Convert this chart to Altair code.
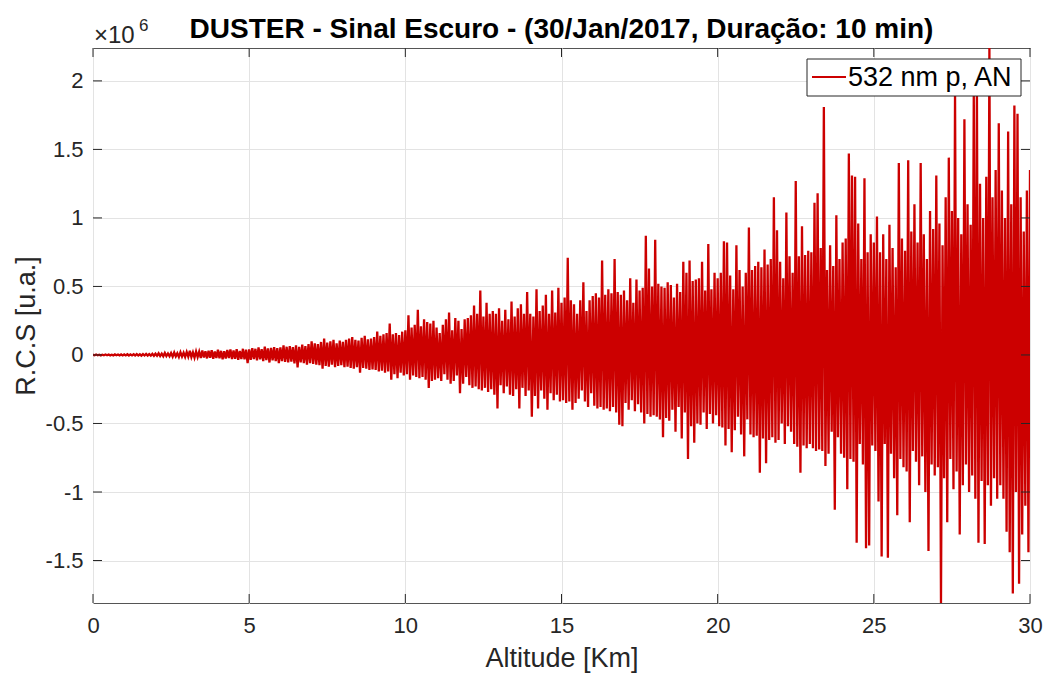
import altair as alt
import pandas as pd

# ---------------- texts ----------------
title_text = "DUSTER - Sinal Escuro - (30/Jan/2017, Duração: 10 min)"
series_name = "532 nm p, AN"
x_title = "Altitude [Km]"
y_title = "R.C.S [u.a.]"
exp_base = "×10"
exp_power = "6"

# ---------------- data (R.C.S in units of 1e6, one sample every 0.05 km) ----------------
step_km = 0.05

seg_00_05 = [
    0.002, -0.002, 0.003, -0.002, 0.002, -0.003, 0.002, -0.002, 0.003, -0.002,
    0.003, -0.003, 0.002, -0.003, 0.004, -0.002, 0.003, -0.003, 0.004, -0.003,
    0.004, -0.003, 0.005, -0.004, 0.004, -0.003, 0.005, -0.004, 0.006, -0.004,
    0.005, -0.005, 0.006, -0.004, 0.007, -0.005, 0.006, -0.005, 0.008, -0.006,
    0.009, -0.006, 0.012, -0.008, 0.010, -0.009, 0.015, -0.008, 0.011, -0.010,
    0.014, -0.012, 0.018, -0.010, 0.013, -0.014, 0.020, -0.012, 0.016, -0.015,
    0.022, -0.013, 0.030, -0.016, 0.019, -0.020, 0.026, -0.015, 0.024, -0.022,
    0.032, -0.018, 0.027, -0.025, 0.030, -0.020, 0.035, -0.028, 0.026, -0.022,
    0.038, -0.025, 0.030, -0.032, 0.028, -0.026, 0.036, -0.022, 0.040, -0.030,
    0.033, -0.028, 0.042, -0.035, 0.030, -0.030, 0.045, -0.032, 0.038, -0.060,
]

seg_05_10 = [
    0.040, -0.035, 0.050, -0.030, 0.045, -0.040, 0.055, -0.032, 0.042, -0.045,
    0.060, -0.038, 0.048, -0.055, 0.052, -0.040, 0.058, -0.045, 0.050, -0.060,
    0.055, -0.045, 0.070, -0.050, 0.060, -0.055, 0.065, -0.048, 0.058, -0.062,
    0.070, -0.090, 0.060, -0.055, 0.075, -0.060, 0.065, -0.070, 0.080, -0.060,
    0.100, -0.065, 0.085, -0.070, 0.080, -0.075, 0.095, -0.100, 0.120, -0.080,
    0.090, -0.085, 0.100, -0.070, 0.110, -0.090, 0.085, -0.080, 0.105, -0.075,
    0.095, -0.090, 0.110, -0.085, 0.120, -0.095, 0.130, -0.100, 0.110, -0.090,
    0.105, -0.130, 0.125, -0.095, 0.140, -0.100, 0.115, -0.110, 0.120, -0.105,
    0.130, -0.110, 0.170, -0.120, 0.140, -0.115, 0.150, -0.130, 0.160, -0.120,
    0.230, -0.180, 0.150, -0.140, 0.160, -0.170, 0.145, -0.130, 0.170, -0.150,
]

seg_10_15 = [
    0.180, -0.140, 0.290, -0.180, 0.200, -0.150, 0.220, -0.160, 0.330, -0.170,
    0.210, -0.160, 0.260, -0.180, 0.240, -0.240, 0.230, -0.190, 0.250, -0.180,
    0.200, -0.170, 0.160, -0.190, 0.220, -0.140, 0.260, -0.180, 0.310, -0.210,
    0.180, -0.190, 0.270, -0.150, 0.250, -0.280, 0.190, -0.210, 0.260, -0.160,
    0.270, -0.220, 0.290, -0.240, 0.360, -0.230, 0.300, -0.250, 0.470, -0.260,
    0.280, -0.240, 0.380, -0.270, 0.300, -0.250, 0.320, -0.290, 0.300, -0.390,
    0.340, -0.220, 0.250, -0.280, 0.330, -0.230, 0.260, -0.290, 0.390, -0.300,
    0.280, -0.250, 0.340, -0.390, 0.370, -0.240, 0.300, -0.300, 0.460, -0.260,
    0.300, -0.450, 0.280, -0.300, 0.480, -0.390, 0.320, -0.260, 0.360, -0.320,
    0.440, -0.400, 0.300, -0.280, 0.470, -0.330, 0.310, -0.290, 0.490, -0.340,
]

seg_15_20 = [
    0.380, -0.330, 0.420, -0.350, 0.710, -0.340, 0.400, -0.400, 0.370, -0.350,
    0.300, -0.320, 0.400, -0.260, 0.530, -0.340, 0.320, -0.380, 0.400, -0.280,
    0.430, -0.370, 0.450, -0.390, 0.420, -0.380, 0.690, -0.400, 0.440, -0.390,
    0.480, -0.410, 0.450, -0.380, 0.700, -0.420, 0.460, -0.510, 0.440, -0.520,
    0.470, -0.350, 0.400, -0.400, 0.560, -0.330, 0.380, -0.410, 0.550, -0.360,
    0.470, -0.420, 0.490, -0.500, 0.870, -0.430, 0.630, -0.450, 0.500, -0.440,
    0.840, -0.450, 0.520, -0.470, 0.500, -0.600, 0.490, -0.460, 0.530, -0.480,
    0.510, -0.400, 0.420, -0.560, 0.520, -0.380, 0.460, -0.610, 0.680, -0.420,
    0.600, -0.760, 0.690, -0.520, 0.540, -0.640, 0.550, -0.500, 0.560, -0.510,
    0.680, -0.420, 0.470, -0.540, 0.810, -0.430, 0.480, -0.500, 0.600, -0.440,
]

seg_20_25 = [
    0.560, -0.520, 0.600, -0.530, 0.830, -0.660, 0.820, -0.540, 0.580, -0.710,
    0.480, -0.550, 0.800, -0.450, 0.620, -0.580, 0.500, -0.740, 0.600, -0.470,
    0.930, -0.580, 0.620, -0.600, 0.650, -0.590, 0.680, -0.860, 0.640, -0.610,
    0.770, -0.790, 0.660, -0.620, 0.700, -0.600, 1.150, -0.640, 0.910, -0.620,
    0.680, -0.500, 0.560, -0.650, 1.040, -0.520, 0.720, -0.560, 0.600, -0.650,
    1.270, -0.670, 0.720, -0.860, 0.940, -0.660, 0.730, -0.680, 0.760, -0.650,
    0.750, -0.680, 1.110, -0.700, 1.180, -0.690, 0.780, -0.700, 1.810, -0.810,
    0.620, -0.720, 0.800, -0.560, 0.650, -1.130, 1.020, -0.600, 0.700, -0.720,
    0.820, -0.750, 0.850, -0.980, 1.470, -0.760, 1.310, -0.780, 1.300, -1.370,
    0.960, -0.650, 0.700, -0.800, 1.290, -1.410, 0.750, -1.390, 0.880, -0.660,
]

seg_25_30 = [
    0.820, -0.700, 1.010, -1.070, 0.750, -1.470, 0.880, -0.650, 0.700, -1.480,
    0.950, -0.720, 0.780, -0.900, 0.640, -1.170, 1.400, -0.760, 0.850, -0.820,
    0.760, -0.850, 1.420, -1.220, 0.900, -0.700, 1.100, -0.780, 0.820, -0.950,
    1.400, -0.740, 0.880, -1.000, 0.700, -1.430, 1.050, -0.800, 0.920, -0.880,
    1.310, -0.820, 0.960, -1.810, 0.800, -0.900, 1.150, -1.220, 1.440, -0.760,
    1.050, -0.980, 1.900, -0.850, 1.000, -1.310, 0.880, -0.950, 1.720, -0.800,
    1.100, -1.000, 0.950, -0.880, 1.900, -1.050, 1.950, -1.370, 1.250, -0.920,
    1.000, -1.380, 1.300, -0.950, 2.240, -1.100, 1.150, -0.900, 1.350, -1.050,
    1.690, -0.950, 1.200, -1.050, 1.000, -1.290, 1.630, -1.440, 1.100, -1.740,
    1.820, -1.000, 1.760, -1.670, 1.150, -1.310, 0.900, -1.100, 1.200, -1.440,
    1.350,
]

rcs = seg_00_05 + seg_05_10 + seg_10_15 + seg_15_20 + seg_20_25 + seg_25_30
altitude = [round(i * step_km, 2) for i in range(len(rcs))]

x_ticks = [0, 5, 10, 15, 20, 25, 30]
y_ticks = [-1.5, -1, -0.5, 0, 0.5, 1, 1.5, 2]
x_domain = [0, 30]
y_domain = [-1.81, 2.24]

# ---------------- chart ----------------
W, H = 937, 555
FONT = "Liberation Sans"
INK = "#262626"
RED = "#cc0000"
GRID = "#e3e3e3"

df = pd.DataFrame({"alt": altitude, "rcs": rcs, "serie": series_name})

x_scale = alt.Scale(domain=x_domain, nice=False, zero=False)
y_scale = alt.Scale(domain=y_domain, nice=False, zero=False)

x_axis = alt.Axis(
    values=x_ticks, title=x_title, grid=True, gridColor=GRID, gridWidth=1,
    tickSize=0, domain=False, labelFont=FONT, labelFontSize=22, labelColor=INK,
    labelPadding=12, labelFlush=False, labelOverlap=False,
    labelExpr="toString(datum.value)",
    titleFont=FONT, titleFontSize=27, titleFontWeight="normal", titleColor=INK,
    titleX=W / 2, titleY=63, titleBaseline="alphabetic", titleAlign="center",
)
y_axis = alt.Axis(
    values=y_ticks, title=y_title, grid=True, gridColor=GRID, gridWidth=1,
    tickSize=0, domain=False, labelFont=FONT, labelFontSize=22, labelColor=INK,
    labelPadding=10, labelFlush=False, labelOverlap=False,
    labelExpr="toString(datum.value)",
    titleFont=FONT, titleFontSize=27, titleFontWeight="normal", titleColor=INK,
    titleX=-59, titleY=H / 2, titleBaseline="alphabetic", titleAlign="center",
    titleAngle=270,
)

X = alt.X("alt:Q", scale=x_scale, axis=x_axis)
Y = alt.Y("rcs:Q", scale=y_scale, axis=y_axis)

line = alt.Chart(df).mark_line(color=RED, strokeWidth=2.3, clip=True).encode(
    x=X, y=Y, order="alt:Q",
)

ytick_df = pd.DataFrame({"rcs": y_ticks})
xtick_df = pd.DataFrame({"alt": x_ticks})
TL = 9
tick_style = dict(color=INK, strokeWidth=1)
left_ticks = alt.Chart(ytick_df).mark_rule(**tick_style).encode(
    y=Y, x=alt.value(0), x2=alt.value(TL))
right_ticks = alt.Chart(ytick_df).mark_rule(**tick_style).encode(
    y=Y, x=alt.value(W - TL), x2=alt.value(W))
bottom_ticks = alt.Chart(xtick_df).mark_rule(**tick_style).encode(
    x=X, y=alt.value(H - TL), y2=alt.value(H))
top_ticks = alt.Chart(xtick_df).mark_rule(**tick_style).encode(
    x=X, y=alt.value(0), y2=alt.value(TL))

one = pd.DataFrame({"serie": [series_name], "title": [title_text],
                    "b": [exp_base], "p": [exp_power]})

legend_box = alt.Chart(one).mark_rect(fill="white", stroke=INK, strokeWidth=1).encode(
    x=alt.value(714), x2=alt.value(928), y=alt.value(11), y2=alt.value(48))
legend_line = alt.Chart(one).mark_rule(color=RED, strokeWidth=1.8).encode(
    x=alt.value(719), x2=alt.value(753), y=alt.value(29))
legend_text = alt.Chart(one).mark_text(
    font=FONT, fontSize=27, color="black", align="left", baseline="middle").encode(
    text="serie:N", x=alt.value(755), y=alt.value(30))

title = alt.Chart(one).mark_text(
    font=FONT, fontSize=28, fontWeight="bold", color="black",
    align="center", baseline="alphabetic").encode(
    text="title:N", x=alt.value(W / 2), y=alt.value(-10))
exp_b = alt.Chart(one).mark_text(
    font=FONT, fontSize=24, color=INK, align="left", baseline="alphabetic").encode(
    text="b:N", x=alt.value(1), y=alt.value(-5))
exp_p = alt.Chart(one).mark_text(
    font=FONT, fontSize=17, color=INK, align="left", baseline="alphabetic").encode(
    text="p:N", x=alt.value(46), y=alt.value(-17))

chart = alt.layer(
    line, left_ticks, right_ticks, bottom_ticks, top_ticks,
    legend_box, legend_line, legend_text, title, exp_b, exp_p,
).properties(
    width=W, height=H,
    autosize=alt.AutoSizeParams(type="none"),
    padding={"left": 93, "top": 48, "right": 17, "bottom": 71},
    background="white",
).configure_view(stroke="#555555", strokeWidth=1)

chart.save("out.html", embed_options={"renderer": "svg", "actions": False})
